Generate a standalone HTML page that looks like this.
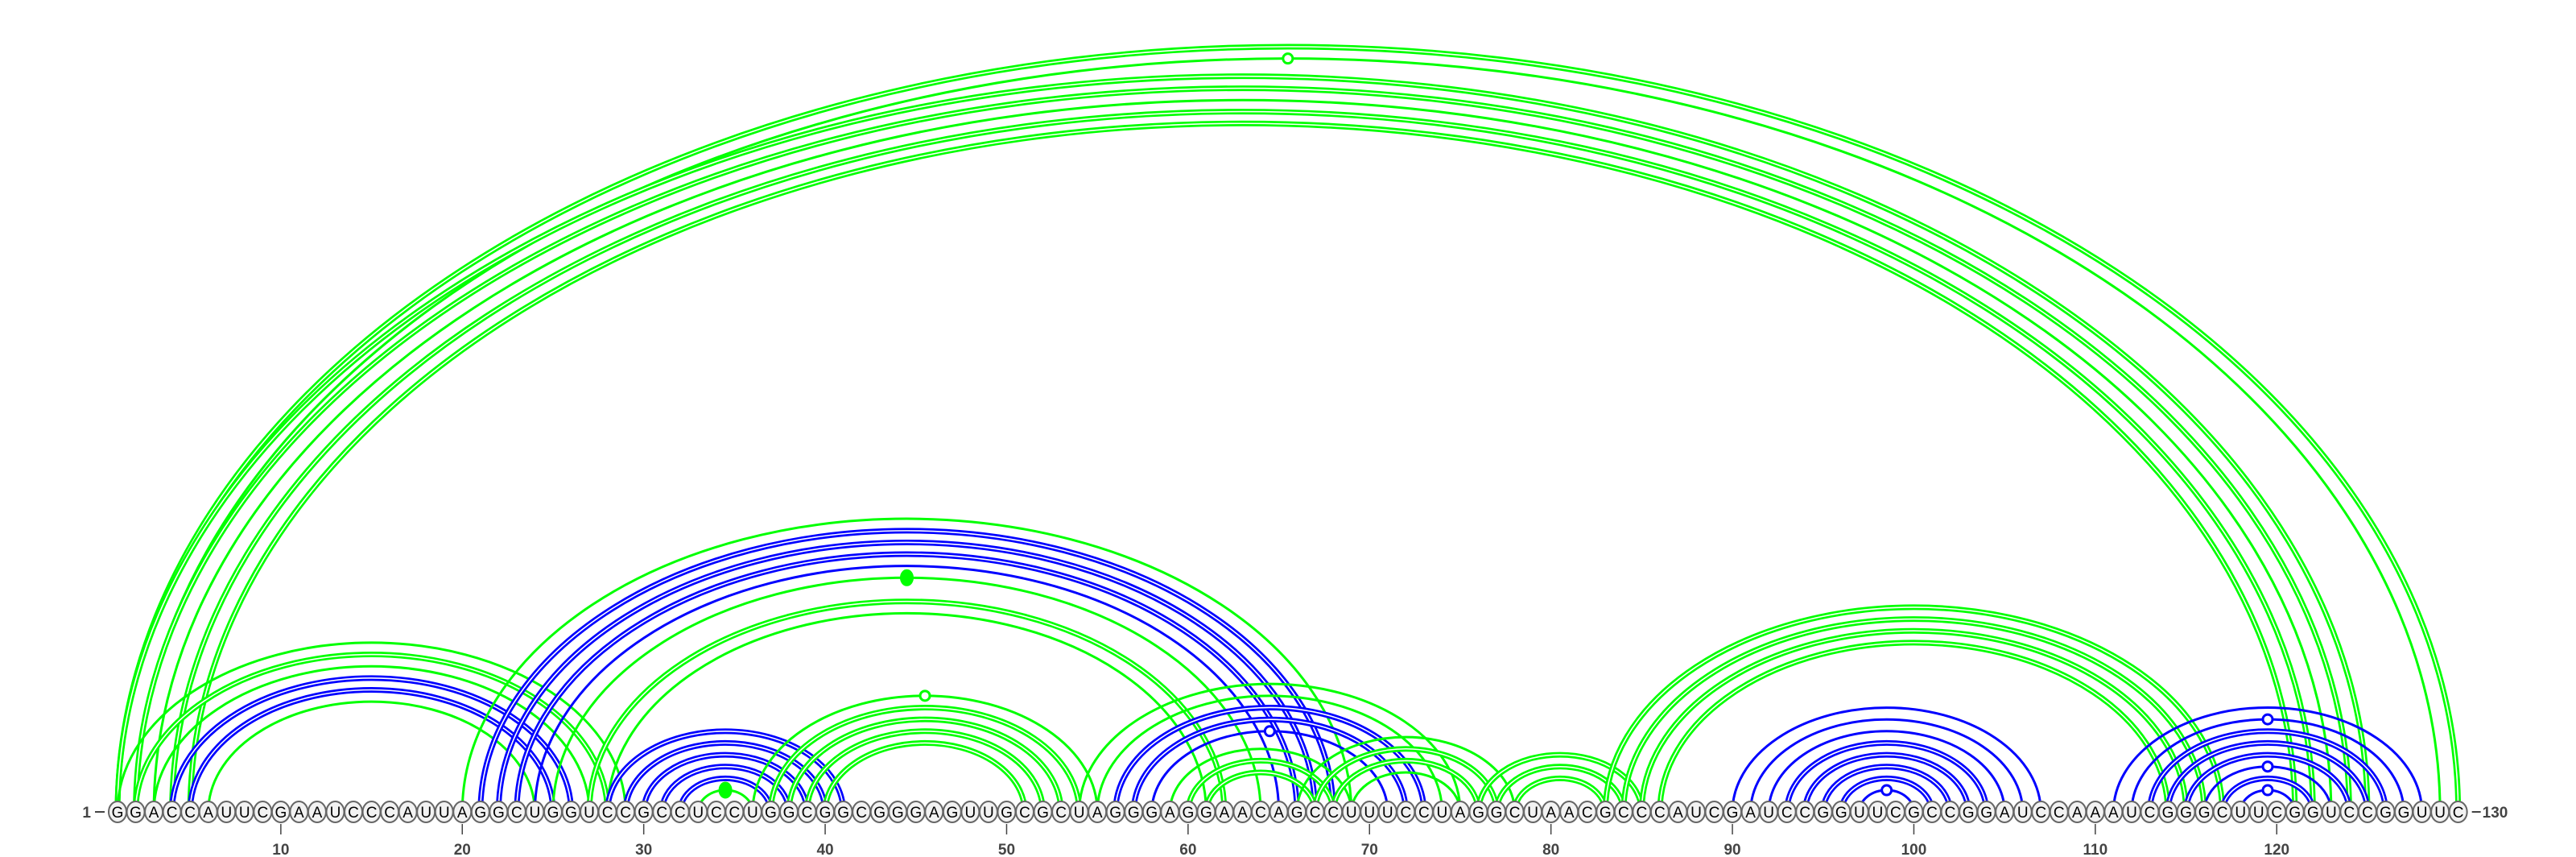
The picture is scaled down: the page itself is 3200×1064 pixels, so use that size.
<!DOCTYPE html>
<html><head><meta charset="utf-8"><style>
html,body{margin:0;padding:0;background:#fff;}
svg{display:block;}
text{font-family:"Liberation Sans",sans-serif;}
</style></head><body>
<svg id="chart" width="3200" height="1064" viewBox="0 0 3200 1064" xmlns="http://www.w3.org/2000/svg">
<g id="arcs"></g>
<g id="bases"></g>
<g id="axis"></g>
</svg>
<script>
const sequence = "GGACCAUUCGAAUCCCAUUAGGCUGGUCCGCCUCCUGGCGGCGGGAGUUGCGCUAGGGAGGAACAGCCUUUCCUAGGCUAACGCCCAUCGAUCCGGUUCGCCGGAUCCAAAUCGGGCUUCGGUCCGGUUC";
const pairStart = [1,2,1,2,3,4,5, 1,2,3,4,5,6, 20,21,22,23,24,25,27,28, 28,29,30,31,32,33, 36,37,38,39,40, 54,55,56,57,58, 59,60,61, 66,67,68,69, 76,77,78, 83,84,85,86, 90,91,92,93,94,95,96,97, 111,112,113,114,115,116,117,118];
const pairEnd   = [130,129,125,124,123,122,121, 29,28,27,26,25,24, 69,68,67,66,65,64,62,61, 41,40,39,38,37,36, 55,54,53,52,51, 75,74,73,72,71, 69,68,67, 78,77,76,75, 85,84,83, 117,116,115,114, 107,106,105,104,103,102,101,100, 128,127,126,125,124,123,122,121];
const pairColor = ["g","g","g","g","g","g","g", "g","g","g","b","b","g", "g","b","b","b","b","g","g","g", "b","b","b","b","b","g", "g","g","g","g","g", "g","g","b","b","b", "g","g","g", "g","g","g","g", "g","g","g", "g","g","g","g", "b","b","b","b","b","b","b","b", "b","b","b","b","b","b","b","b"];
const pairDouble = [1,0,1,1,0,1,1, 0,1,0,1,1,0, 0,1,1,1,0,0,1,0, 1,1,1,1,1,0, 0,1,1,1,1, 0,0,1,1,0, 0,1,1, 0,1,1,0, 1,1,1, 1,1,1,1, 0,0,0,1,1,1,1,0, 0,0,1,1,1,0,1,0];
const dotPairs = [[2,129],[25,64],[33,36],[36,55],[58,71],[97,100],[112,127],[116,123],[118,121]];
const dotFilled = [0,1,1,0,0,0,0,0,0];
const tickValues = [10,20,30,40,50,60,70,80,90,100,110,120];

const X0 = 146, DX = 22.54, BASE = 1008;
const NS = "http://www.w3.org/2000/svg";
const COL = {g:"#00ff00", b:"#0000ff"};
function xPos(p){ return X0 + (p-1)*DX; }
function arcH(i,j){ const hw = (j-i)*DX/2; return 0.65*hw + 5; }
function mk(tag, attrs){ const e = document.createElementNS(NS, tag); for (const k in attrs) e.setAttribute(k, attrs[k]); return e; }

const arcs = document.getElementById('arcs');
for (let k=0;k<pairStart.length;k++){
  const i=pairStart[k], j=pairEnd[k];
  const x1=xPos(i), x2=xPos(j), rx=(x2-x1)/2, ry=arcH(i,j);
  const d = `M${x1},${BASE} A${rx},${ry} 0 0 1 ${x2},${BASE}`;
  const c = COL[pairColor[k]];
  const g = mk('g',{});
  
  
  if (pairDouble[k]) {
    g.appendChild(mk('path',{d:d,fill:'none',stroke:c,'stroke-width':7}));
    g.appendChild(mk('path',{d:d,fill:'none',stroke:'#fff','stroke-width':1.6}));
  } else {
    g.appendChild(mk('path',{d:d,fill:'none',stroke:c,'stroke-width':3}));
  }
  arcs.appendChild(g);
}
for (let k=0;k<dotPairs.length;k++){
  const i=dotPairs[k][0], j=dotPairs[k][1];
  let colr = "#00ff00";
  for (let m=0;m<pairStart.length;m++) if (pairStart[m]===i && pairEnd[m]===j) colr = COL[pairColor[m]];
  const cx=(xPos(i)+xPos(j))/2, cy=BASE-arcH(i,j);
  const dot = mk('ellipse',{cx:cx,cy:cy,rx:dotFilled[k]?7:6,ry:dotFilled[k]?9:6,fill:dotFilled[k]?colr:'#fff',stroke:colr,'stroke-width':3});
  
  
  arcs.appendChild(dot);
}

const bases = document.getElementById('bases');
for (let p=1;p<=sequence.length;p++){
  const x=xPos(p);
  const c = mk('ellipse',{cx:x,cy:BASE,rx:11,ry:13,fill:'#f2f2f2',stroke:'#666','stroke-width':2});
  
  
  bases.appendChild(c);
  const t = mk('text',{x:x,y:BASE+7,'text-anchor':'middle','font-size':19,fill:'#000'});
  t.textContent = sequence[p-1];
  
  
  bases.appendChild(t);
}

const axis = document.getElementById('axis');
for (const v of tickValues){
  const x=xPos(v);
  const l = mk('line',{x1:x,y1:1023,x2:x,y2:1036,stroke:'#444','stroke-width':1.5});
  
  
  axis.appendChild(l);
  const t = mk('text',{x:x,y:1061,'text-anchor':'middle','font-size':19,'font-weight':'bold',fill:'#444'});
  t.textContent = v;
  
  
  axis.appendChild(t);
}
const s1 = mk('text',{x:113,y:BASE+7,'text-anchor':'end','font-size':19,'font-weight':'bold',fill:'#444'});
s1.textContent = "1";


axis.appendChild(s1);
const l1 = mk('line',{x1:118,y1:BASE,x2:130,y2:BASE,stroke:'#444','stroke-width':2});


axis.appendChild(l1);
const l2 = mk('line',{x1:xPos(130)+17,y1:BASE,x2:xPos(130)+28,y2:BASE,stroke:'#444','stroke-width':2});


axis.appendChild(l2);
const s2 = mk('text',{x:xPos(130)+30,y:BASE+7,'text-anchor':'start','font-size':19,'font-weight':'bold',fill:'#444'});
s2.textContent = "130";


axis.appendChild(s2);
</script>
</body></html>
